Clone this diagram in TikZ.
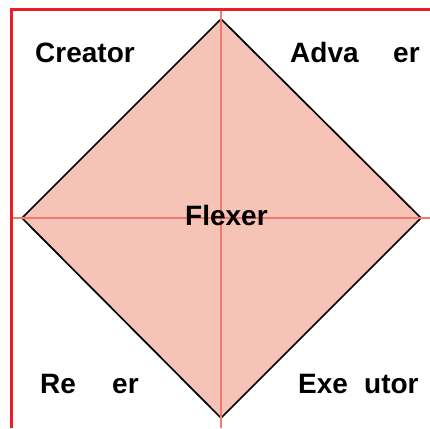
\documentclass[tikz,border=0pt]{standalone}
\usepackage{fontspec}
\setmainfont{Liberation Sans}
\definecolor{borderred}{HTML}{EE1C25}
\definecolor{crossred}{HTML}{F07A6E}
\definecolor{fillsalmon}{HTML}{F6C4B6}
\begin{document}
\begin{tikzpicture}[x=1pt,y=-1pt,
  lbl/.style={anchor=base west,inner sep=0pt,font=\fontsize{28}{31}\selectfont\bfseries}]
\useasboundingbox (0,0) rectangle (430,428);
\fill[white] (0,0) rectangle (430,428);
% diamond
\coordinate (T) at (221,19);
\coordinate (R) at (421,218);
\coordinate (B) at (221,418);
\coordinate (L) at (22,218);
\filldraw[fill=fillsalmon,draw=black,line width=1.7pt,line join=miter] (T) -- (R) -- (B) -- (L) -- cycle;
% cross lines
\coordinate (vtop) at (221,9);
\coordinate (vbot) at (221,428);
\coordinate (hl) at (11,218);
\coordinate (hr) at (430,218);
\draw[crossred,line width=1.2pt] (vtop) -- (vbot);
\draw[crossred,line width=1.2pt] (hl) -- (hr);
% border
\coordinate (c0) at (11.5,428);
\coordinate (c1) at (11.5,9.5);
\coordinate (c2) at (430,9.5);
\draw[borderred,line width=3pt] (c0) -- (c1) -- (c2);
% labels
\node[lbl] (creator) at (35,63) {Creator};
\node[lbl] (adva) at (290,63) {Adva};
\node[lbl] (er1) at (393,63) {er};
\node[lbl] (re) at (40,393) {Re};
\node[lbl] (er2) at (112,393) {er};
\node[lbl] (exe) at (298,393) {Exe};
\node[lbl] (utor) at (364,393) {utor};
\node[lbl] (flexer) at (185,225) {Flexer};
\end{tikzpicture}
\end{document}
